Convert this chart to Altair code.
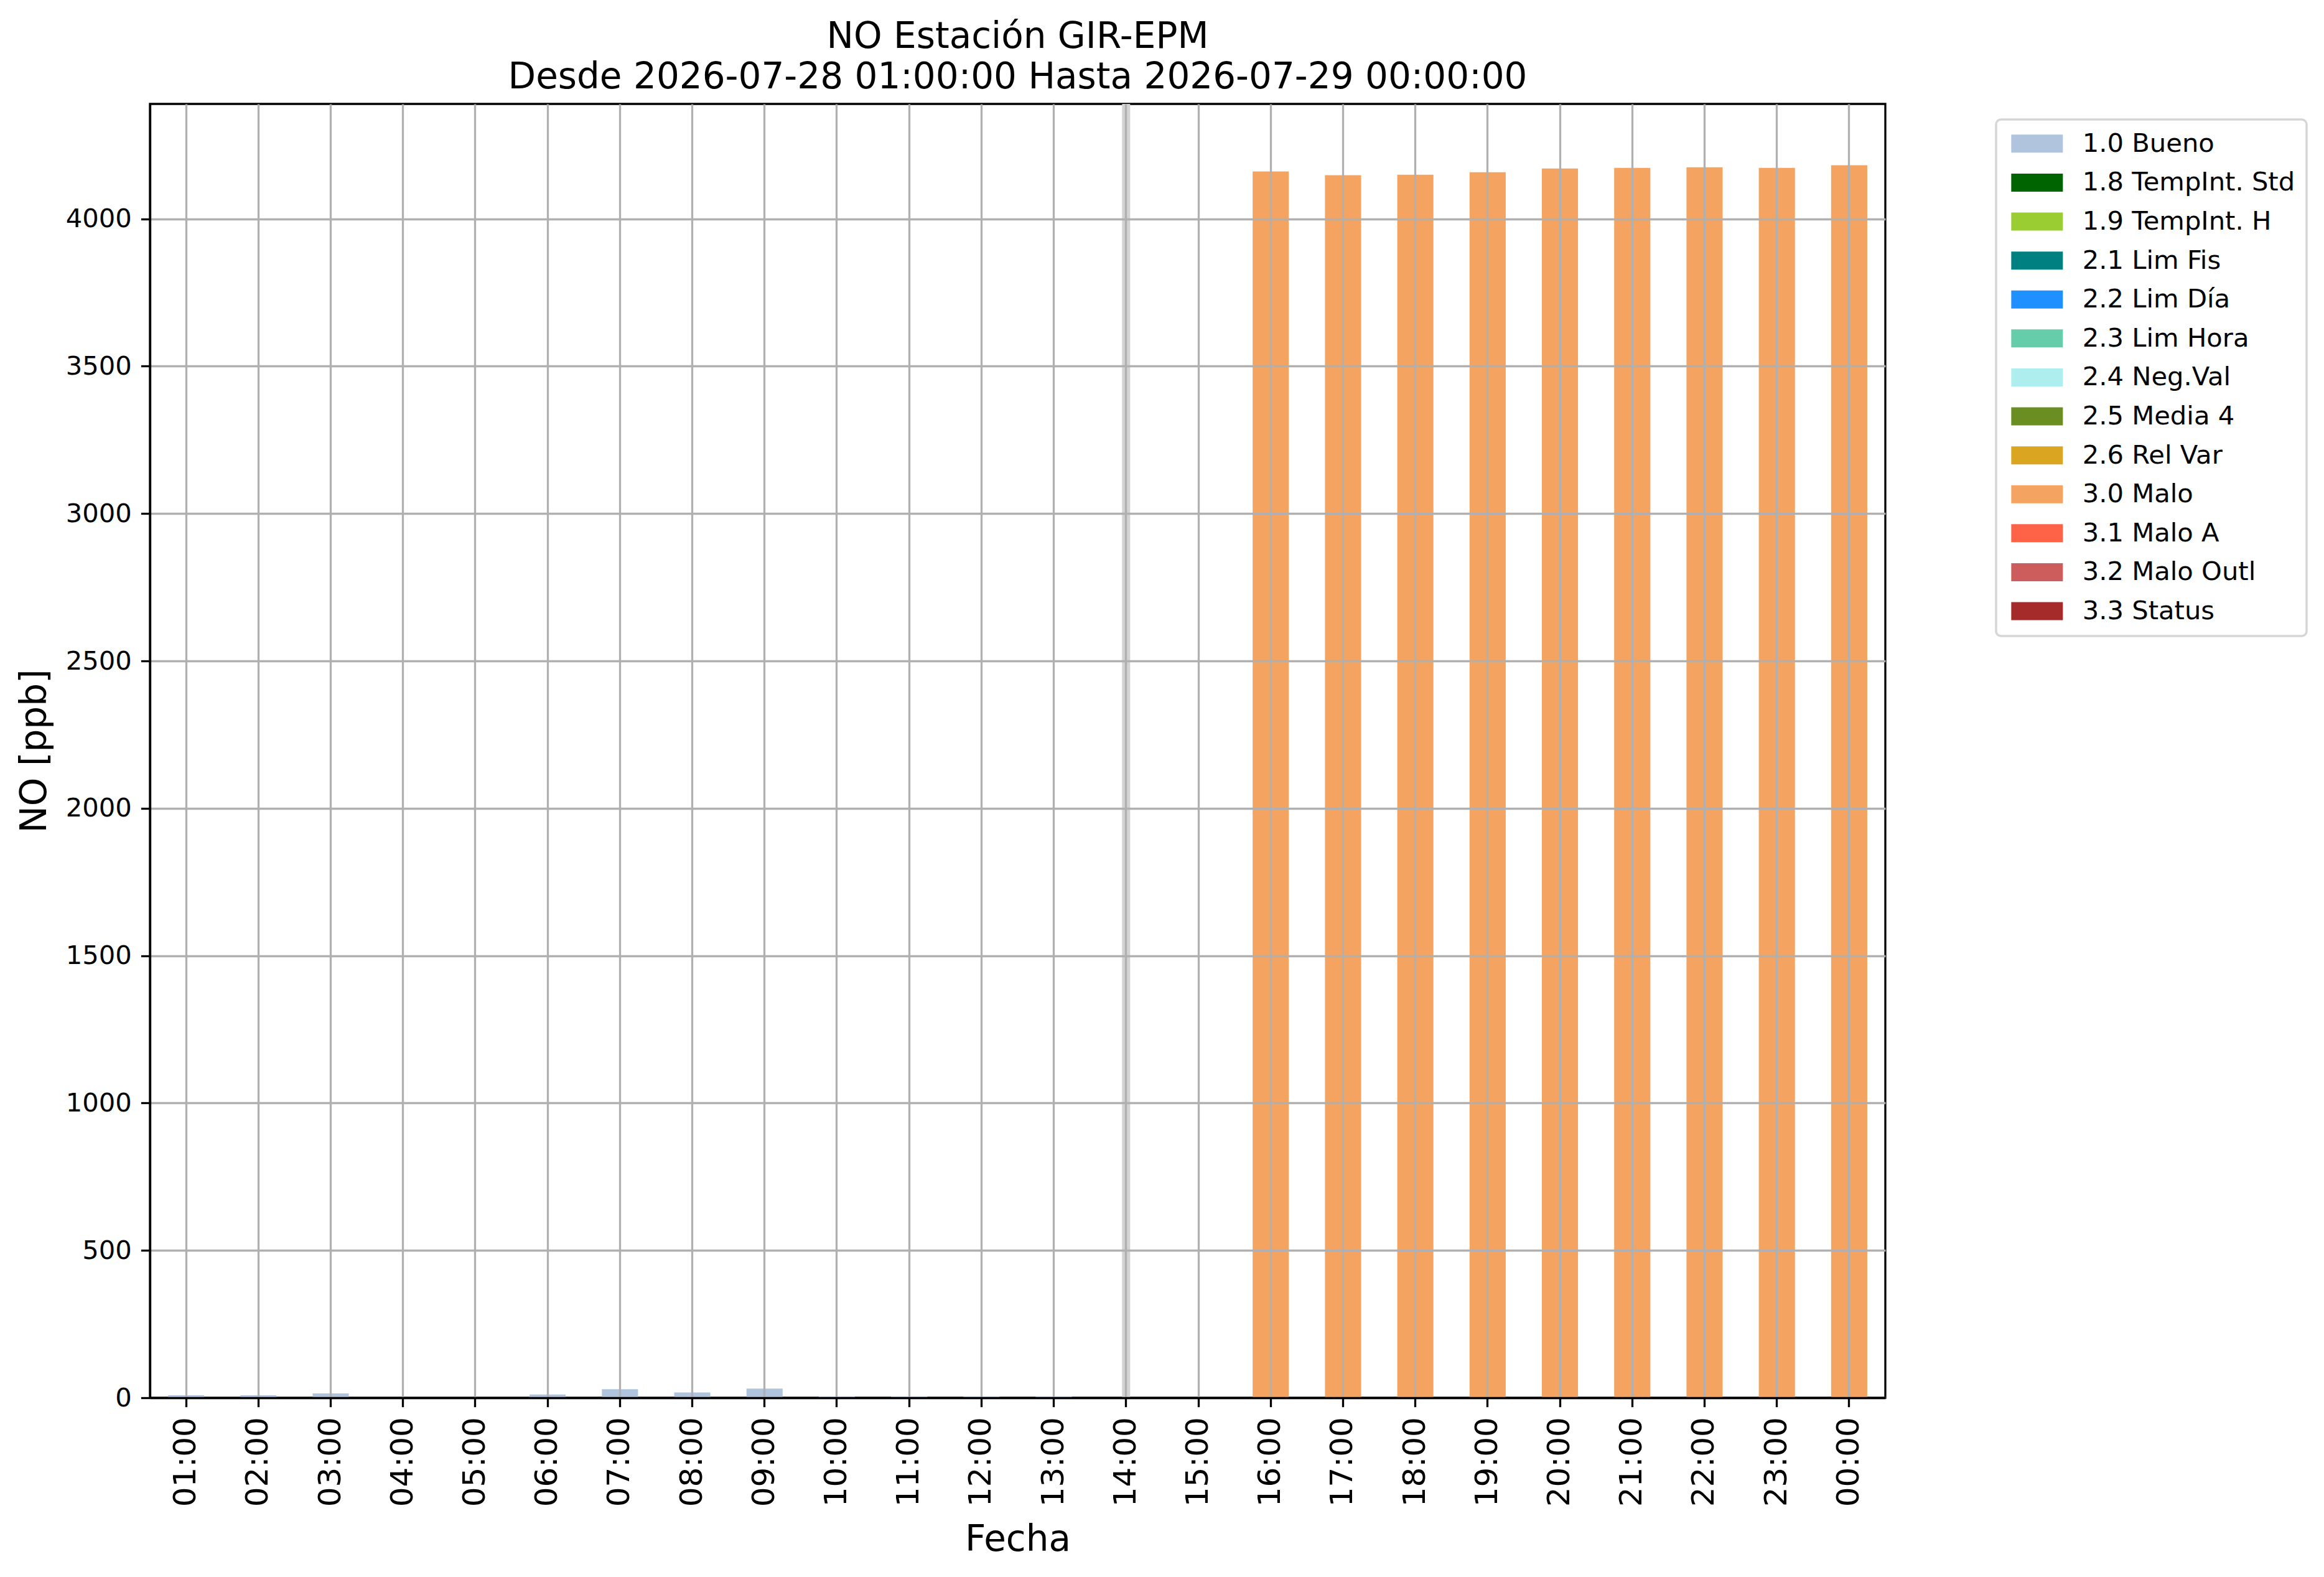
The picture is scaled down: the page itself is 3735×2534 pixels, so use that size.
import altair as alt
import pandas as pd

hours = ["01:00", "02:00", "03:00", "04:00", "05:00", "06:00", "07:00", "08:00",
         "09:00", "10:00", "11:00", "12:00", "13:00", "14:00", "15:00", "16:00",
         "17:00", "18:00", "19:00", "20:00", "21:00", "22:00", "23:00", "00:00"]
values = [8.5, 8.5, 15, None, None, 11, 29, 18,
          31, 4, 4, 4, 4, None, None, 4161,
          4148, 4150, 4158, 4171, 4173, 4175, 4173, 4182]
flags = ["1.0 Bueno"] * 15 + ["3.0 Malo"] * 9

flag_labels = ["1.0 Bueno", "1.8 TempInt. Std", "1.9 TempInt. H", "2.1 Lim Fis",
               "2.2 Lim Día", "2.3 Lim Hora", "2.4 Neg.Val", "2.5 Media 4",
               "2.6 Rel Var", "3.0 Malo", "3.1 Malo A", "3.2 Malo Outl", "3.3 Status"]
flag_colors = ["#b0c4de", "#006400", "#9acd32", "#008080", "#1e90ff", "#66cdaa",
               "#afeeee", "#6b8e23", "#daa520", "#f4a460", "#ff6347", "#cd5c5c",
               "#a52a2a"]

marked_hours = ["14:00"]
y_ticks = [0, 500, 1000, 1500, 2000, 2500, 3000, 3500, 4000]
y_max = 4390

df = pd.DataFrame({"hora": hours, "valor": values, "flag": flags})
df = df.dropna()
df_mark = pd.DataFrame({"hora": marked_hours})

FONT = "DejaVu Sans"
W, H = 2789, 2079

x_scale = alt.Scale(domain=hours, paddingInner=0.5, paddingOuter=0.25)
y_scale = alt.Scale(domain=[0, y_max], nice=False, zero=True)

bars = alt.Chart(df).mark_bar().encode(
    x=alt.X("hora:N", scale=x_scale, sort=hours,
            axis=alt.Axis(title="Fecha", labelAngle=270, labelFontSize=50,
                          titleFontSize=58, titlePadding=25, labelPadding=16,
                          bandPosition=0.5, grid=True, zindex=1)),
    y=alt.Y("valor:Q", scale=y_scale,
            axis=alt.Axis(title="NO [ppb]", values=y_ticks, format="d",
                          labelFontSize=41.7, titleFontSize=58, titlePadding=20,
                          labelPadding=15, grid=True, zindex=1)),
    color=alt.Color("flag:N",
                    scale=alt.Scale(domain=flag_labels, range=flag_colors),
                    legend=alt.Legend(title=None, orient="none",
                                      legendX=2967, legendY=25,
                                      symbolType="M-1,-1H4.724V1H-1Z",
                                      symbolSize=841, symbolOpacity=1,
                                      labelOffset=79, labelLimit=0)),
)

mark_line = alt.Chart(df_mark).mark_rule(color="#d3d3d3", strokeWidth=13).encode(
    x=alt.X("hora:N", scale=x_scale, sort=hours, bandPosition=0.5),
    y=alt.value(0),
    y2=alt.value(H),
)

chart = alt.layer(bars, mark_line).properties(
    width=W, height=H,
    background="white",
    title=alt.TitleParams(
        text=["NO Estación GIR-EPM", "Desde 2026-07-28 01:00:00 Hasta 2026-07-29 00:00:00"],
        fontSize=58, font=FONT, fontWeight="normal", anchor="middle",
        lineHeight=65, offset=7, color="black"),
    padding={"left": 19, "top": 22, "right": 10, "bottom": 10},
).configure_view(
    stroke="black", strokeWidth=3.3
).configure_axis(
    labelFont=FONT, titleFont=FONT, labelColor="black", titleColor="black",
    titleFontWeight="normal", domainColor="black", domainWidth=3.3,
    tickColor="black", tickWidth=3.3, tickSize=14.6,
    gridColor="#b0b0b0", gridWidth=3.3, gridOpacity=1
).configure_legend(
    rowPadding=19.6, padding=18, strokeColor="#d6d6d6", strokeWidth=3.5,
    cornerRadius=8, fillColor="white", labelFont=FONT, labelFontSize=41.7,
    labelColor="black", symbolStrokeWidth=0
)

chart.save("out.html", embed_options={"renderer": "svg", "actions": False})
